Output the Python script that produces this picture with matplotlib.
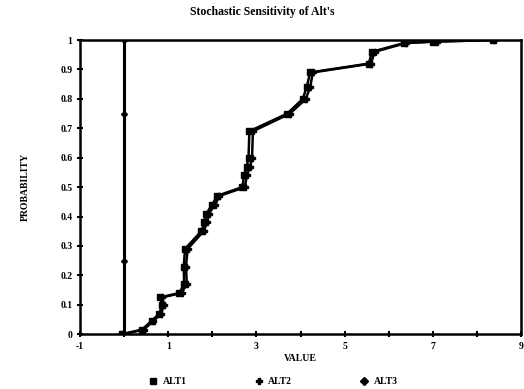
import matplotlib.pyplot as plt
from matplotlib.lines import Line2D

# cumulative distributions
alt1_value = [-0.05, 0.40, 0.62, 0.80, 0.86, 0.82, 1.25, 1.36, 1.35, 1.38, 1.75, 1.82, 1.86, 2.00,
              2.10, 2.68, 2.72, 2.78, 2.82, 2.84, 3.70, 4.05, 4.14, 4.22, 5.55, 5.62, 6.35, 7.00, 8.36]
alt1_prob = [0.0, 0.015, 0.045, 0.07, 0.10, 0.125, 0.14, 0.17, 0.23, 0.29, 0.35, 0.38, 0.41, 0.44,
             0.47, 0.50, 0.54, 0.57, 0.60, 0.69, 0.75, 0.80, 0.84, 0.89, 0.92, 0.96, 0.99, 0.995, 1.0]

alt2_value = [-0.05, 0.44, 0.66, 0.84, 0.90, 0.86, 1.30, 1.42, 1.40, 1.44, 1.80, 1.88, 1.92, 2.06,
              2.16, 2.74, 2.78, 2.86, 2.90, 2.92, 3.76, 4.12, 4.22, 4.28, 5.60, 5.68, 6.40, 7.10, 8.40]
alt2_prob = [0.0, 0.015, 0.045, 0.07, 0.10, 0.125, 0.14, 0.17, 0.23, 0.29, 0.35, 0.38, 0.41, 0.44,
             0.47, 0.50, 0.54, 0.57, 0.60, 0.69, 0.75, 0.80, 0.84, 0.89, 0.92, 0.96, 0.99, 0.995, 1.0]

alt3_value = [0.0, 0.0, 0.0, 0.0]
alt3_prob = [0.0, 0.25, 0.75, 1.0]

yticks = [0, 0.1, 0.2, 0.3, 0.4, 0.5, 0.6, 0.7, 0.8, 0.9, 1]
ytick_labels = ['0', '0.1', '0.2', '0.3', '0.4', '0.5', '0.6', '0.7', '0.8', '0.9', '1']
xticks = list(range(-1, 10))
xtick_labels = [str(v) if v % 2 else '' for v in xticks]

plt.rcParams['font.family'] = ['Liberation Serif', 'DejaVu Serif']
plt.rcParams['font.weight'] = 'bold'

fig = plt.figure(figsize=(5.24, 3.89), dpi=100)
ax = fig.add_axes([0.153, 0.141, 0.841, 0.756])

ax.plot(alt1_value, alt1_prob, color='black', lw=1.8, marker='s', ms=4)
ax.plot(alt2_value, alt2_prob, color='black', lw=1.8, marker='P', ms=4)
ax.plot(alt3_value, alt3_prob, color='black', lw=2.2, marker='D', ms=3)

ax.set_xlim(-1, 9)
ax.set_ylim(0, 1)
ax.set_xticks(xticks)
ax.set_xticklabels(xtick_labels, fontsize=7, fontweight='bold')
ax.set_yticks(yticks)
ax.set_yticklabels(ytick_labels, fontsize=7, fontweight='bold')
ax.tick_params(direction='inout', length=5, width=1.5, pad=3)
for s in ax.spines.values():
    s.set_linewidth(1.8)

ax.set_xlabel('VALUE', fontsize=7, fontweight='bold', labelpad=2)
ax.set_ylabel('PROBABILITY', fontsize=7, fontweight='bold', labelpad=22)
fig.text(0.5, 0.962, "Stochastic Sensitivity of Alt's", ha='center', fontsize=8.5, fontweight='bold')

handles = [Line2D([], [], color='black', ls='none', marker='s', ms=4),
           Line2D([], [], color='black', ls='none', marker='P', ms=4),
           Line2D([], [], color='black', ls='none', marker='D', ms=4)]
fig.legend(handles, ['ALT1', 'ALT2', 'ALT3'], loc='lower center', bbox_to_anchor=(0.522, -0.015),
           ncol=3, frameon=False, columnspacing=7.0, handlelength=0.8, handletextpad=0.6,
           prop={'weight': 'bold', 'size': 7})

fig.savefig('out.png', dpi=100, facecolor='white')
